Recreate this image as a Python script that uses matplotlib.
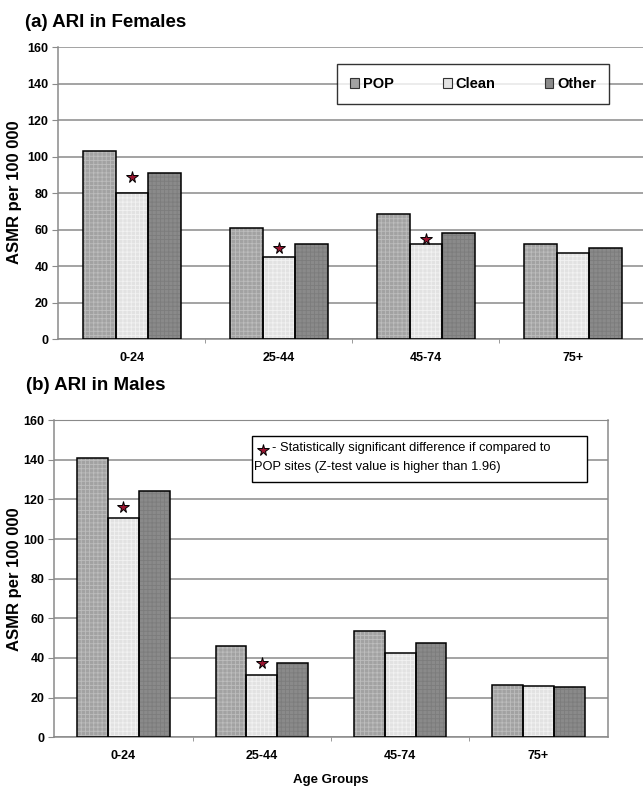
import matplotlib
matplotlib.use("Agg")
import matplotlib.pyplot as plt
import numpy as np
from matplotlib.patches import Rectangle, Patch

plt.rcParams['font.family'] = ['Liberation Sans', 'DejaVu Sans']
plt.rcParams['hatch.linewidth'] = 0.6

age_groups = ["0-24", "25-44", "45-74", "75+"]
series = ["POP", "Clean", "Other"]
females_pop = [103.3, 61, 68.6, 52]
females_clean = [80, 45, 52.2, 47.5]
females_other = [91, 52, 58.4, 50]
males_pop = [141, 45.8, 53.5, 26.3]
males_clean = [110.6, 31.5, 42.5, 25.8]
males_other = [124, 37.7, 47.5, 25.5]
# significance stars: (group index, y value)
female_stars = [(0, 89), (1, 50), (2, 54.8)]
male_stars = [(0, 116), (1, 37.5)]
yticks = [0, 20, 40, 60, 80, 100, 120, 140, 160]

face = ["#a2a2a2", "#e2e2e2", "#8a8a8a"]
hatchc = ["#bdbdbd", "#f2f2f2", "#7c7c7c"]
STAR_C = "#9a1530"
GRID_C = "#8a8a8a"

fig = plt.figure(figsize=(6.43, 7.90), dpi=100)

def panel(ax, data, stars, bw, right_spine):
    x = np.arange(len(age_groups))
    offs = [-bw, 0, bw]
    for vals, o, fc, hc in zip(data, offs, face, hatchc):
        ax.bar(x + o, vals, bw, color=fc, edgecolor=hc, hatch='++++', linewidth=0, zorder=2)
        ax.bar(x + o, vals, bw, fill=False, edgecolor='black', linewidth=1.1, zorder=3)
    for gi, yv in stars:
        ax.plot(gi, yv, marker='*', markersize=8.5, markerfacecolor=STAR_C,
                markeredgecolor='black', markeredgewidth=0.7, zorder=4, linestyle='none')
    ax.set_ylim(0, 160)
    ax.set_xlim(-0.5, len(age_groups) - 0.5)
    ax.set_yticks(yticks)
    ax.set_yticklabels([str(v) for v in yticks], fontsize=9, fontweight='bold')
    ax.set_xticks(x)
    ax.set_xticklabels(age_groups, fontsize=9, fontweight='bold')
    ax.set_xticks(np.arange(len(age_groups) - 1) + 0.5, minor=True)
    ax.tick_params(axis='x', which='major', length=0, pad=9)
    ax.tick_params(axis='x', which='minor', length=3, color=GRID_C, direction='out')
    ax.tick_params(axis='y', length=4, color=GRID_C, pad=3)
    ax.yaxis.grid(True, color=GRID_C, linewidth=1.1, zorder=0)
    ax.set_axisbelow(True)
    ax.spines['top'].set_visible(False)
    ax.spines['right'].set_visible(right_spine)
    for s in ['left', 'bottom', 'right']:
        ax.spines[s].set_color(GRID_C)
        ax.spines[s].set_linewidth(1.1)

# Top panel
ax1 = fig.add_axes([0.0907, 0.5705, 0.9145, 0.3696])
panel(ax1, [females_pop, females_clean, females_other], female_stars, 0.222, False)
handles = [Patch(facecolor=fc, edgecolor='#333333', linewidth=0.8) for fc in face]
leg = ax1.legend(handles, series, ncol=3, loc='center', mode='expand',
                 bbox_to_anchor=(0.474, 0.802, 0.4626, 0.144),
                 prop={'size': 10.5, 'weight': 'bold'}, frameon=True, fancybox=False,
                 handlelength=0.6, handleheight=0.6, handletextpad=0.25, borderaxespad=0,
                 borderpad=0.9)
leg.get_frame().set_edgecolor('black')
leg.get_frame().set_linewidth(1.0)
leg.set_zorder(5)

# Bottom panel
ax2 = fig.add_axes([0.0844, 0.0667, 0.8607, 0.4016])
panel(ax2, [males_pop, males_clean, males_other], male_stars, 0.223, True)
ax2.spines['top'].set_visible(True)
ax2.spines['top'].set_color(GRID_C)
ax2.add_patch(Rectangle((0.357, 0.8045), 0.605, 0.145, transform=ax2.transAxes,
                        facecolor='white', edgecolor='black', linewidth=1.0, zorder=5))
ax2.plot(0.377, 0.905, transform=ax2.transAxes, marker='*', markersize=8.5,
         markerfacecolor=STAR_C, markeredgecolor='black', markeredgewidth=0.7, zorder=6)
ax2.text(0.394, 0.912, "- Statistically significant difference if compared to",
         transform=ax2.transAxes, fontsize=9.3, va='center', ha='left', zorder=6)
ax2.text(0.360, 0.852, "POP sites (Z-test value is higher than 1.96)",
         transform=ax2.transAxes, fontsize=9.3, va='center', ha='left', zorder=6)
ax2.set_xlabel("Age Groups", fontsize=9.5, fontweight='bold', labelpad=9)

fig.text(0.039, 0.982, "(a) ARI in Females", fontsize=13.5, fontweight='bold', va='top', ha='left')
fig.text(0.041, 0.523, "(b) ARI in Males", fontsize=13.5, fontweight='bold', va='top', ha='left')
fig.text(0.022, 0.757, "ASMR per 100 000", fontsize=12, fontweight='bold', rotation=90,
         va='center', ha='center')
fig.text(0.022, 0.267, "ASMR per 100 000", fontsize=12, fontweight='bold', rotation=90,
         va='center', ha='center')

fig.savefig("out.png", dpi=100)
